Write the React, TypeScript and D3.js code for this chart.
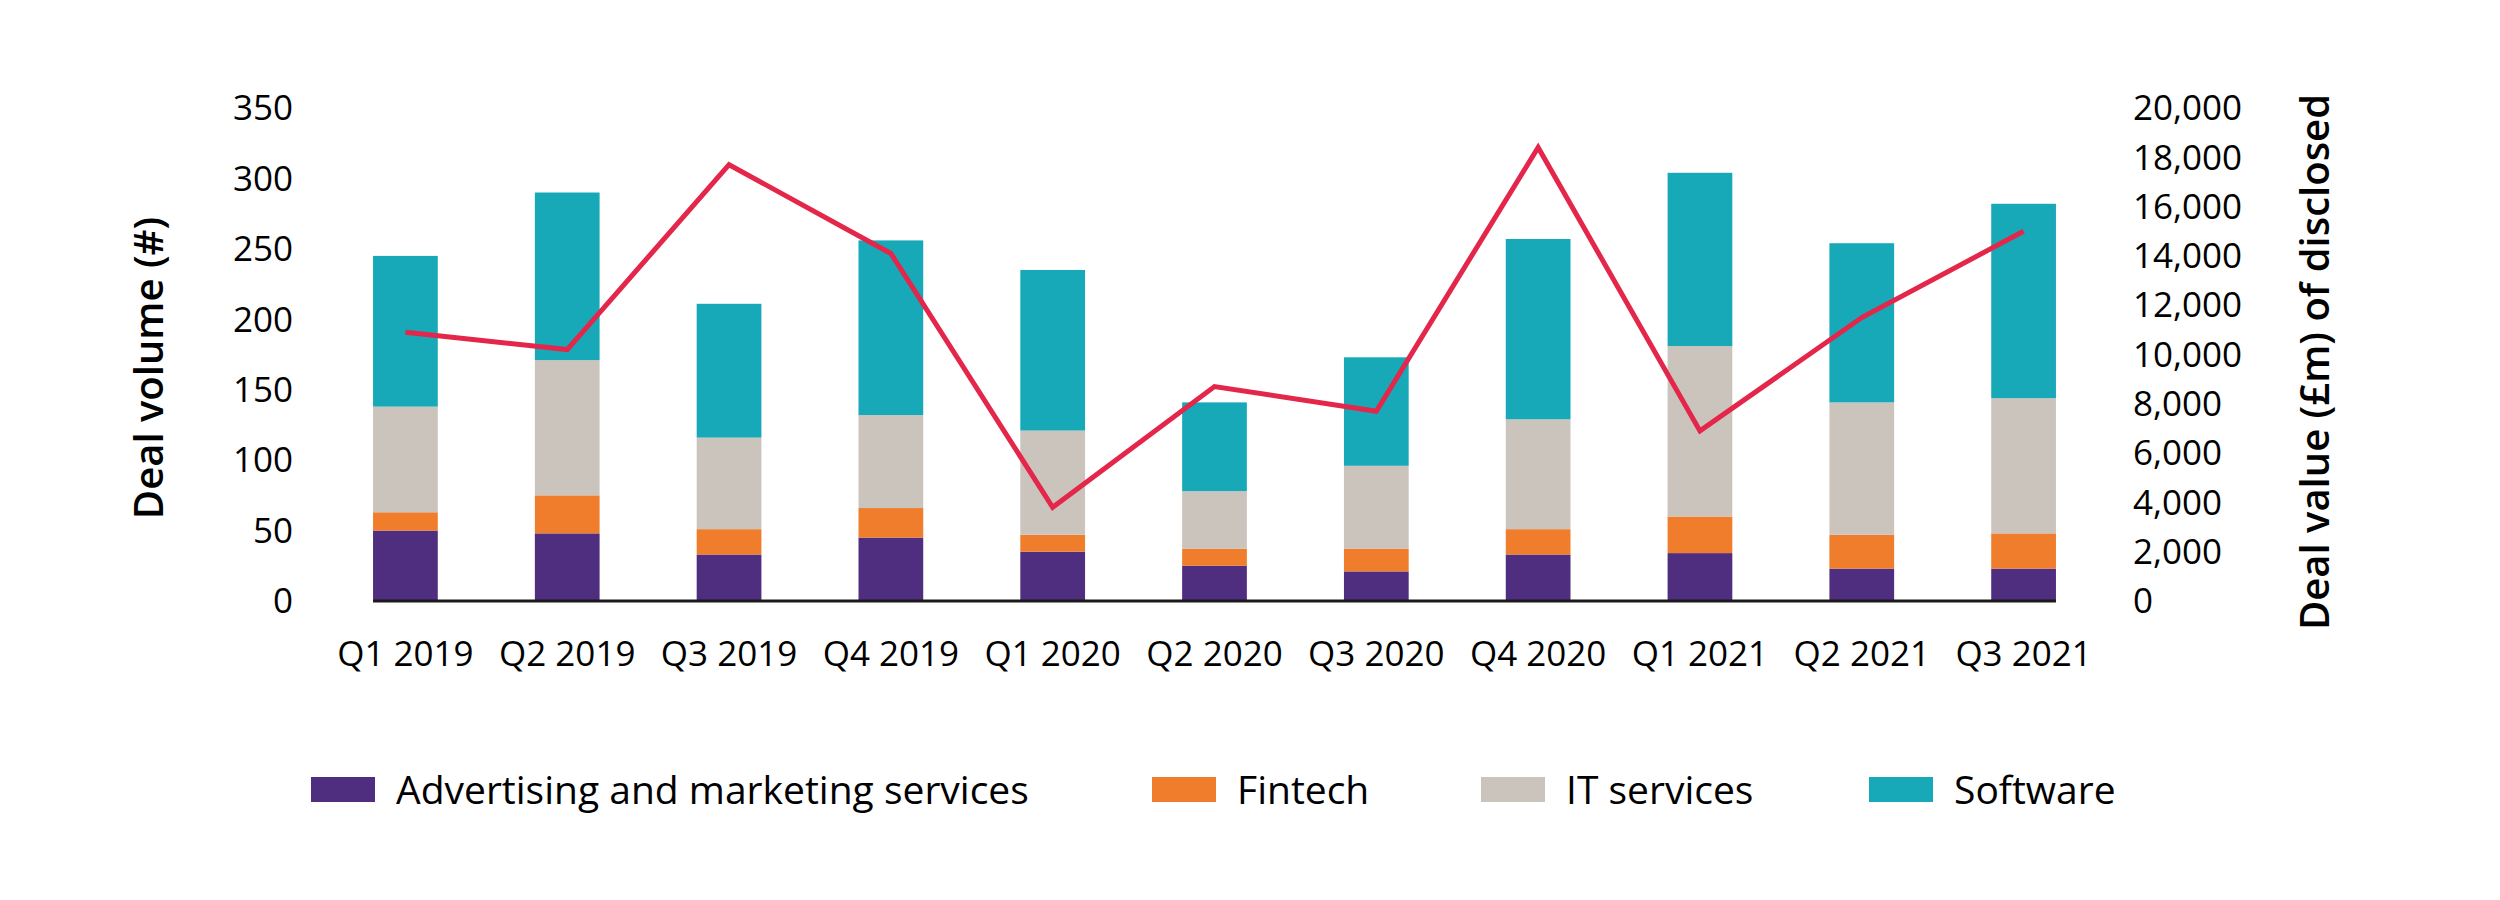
import { useEffect, useRef } from "react";
import * as d3 from "d3";

const QUARTERS = [
  "Q1 2019", "Q2 2019", "Q3 2019", "Q4 2019", "Q1 2020", "Q2 2020",
  "Q3 2020", "Q4 2020", "Q1 2021", "Q2 2021", "Q3 2021",
];

const ADVERTISING = [50, 48, 33, 45, 35, 25, 21, 33, 34, 23, 23];
const FINTECH = [13, 27, 18, 21, 12, 12, 16, 18, 26, 24, 25];
const IT_SERVICES = [75, 96, 65, 66, 74, 41, 59, 78, 121, 94, 96];
const SOFTWARE = [107, 119, 95, 124, 114, 63, 77, 128, 123, 113, 138];

// deal value (£m) of disclosed deals
const DEAL_VALUE = [10900, 10200, 17700, 14100, 3800, 8700, 7700, 18400, 6900, 11500, 15000];

const VOLUME_TICKS = [0, 50, 100, 150, 200, 250, 300, 350];
const VALUE_TICKS = [0, 2000, 4000, 6000, 8000, 10000, 12000, 14000, 16000, 18000, 20000];

const SERIES_NAMES = ["Advertising and marketing services", "Fintech", "IT services", "Software"];
const SERIES_COLORS = ["#4F2D7F", "#EF7D2C", "#CBC4BC", "#17A9B8"];
const LINE_COLOR = "#E3264A";

const FONT = "'Open Sans', 'Noto Sans', sans-serif";

export default function App() {
  const ref = useRef<SVGSVGElement>(null);

  useEffect(() => {
    if (!ref.current) return;
    const width = 2500;
    const height = 900;

    const svg = d3.select(ref.current);
    svg.selectAll("*").remove();
    svg.attr("width", width).attr("height", height).attr("viewBox", `0 0 ${width} ${height}`);

    const x = d3.scaleBand<string>().domain(QUARTERS).range([324.5, 2104.5]).paddingInner(0.6).paddingOuter(0.3);
    const y = d3.scaleLinear().domain([0, 350]).range([601, 108]);
    const y2 = d3.scaleLinear().domain([0, 20000]).range([601, 108]);

    const rows = QUARTERS.map((q, i) => ({
      q,
      a: ADVERTISING[i],
      f: FINTECH[i],
      it: IT_SERVICES[i],
      s: SOFTWARE[i],
    }));
    const stack = d3.stack<(typeof rows)[number]>().keys(["a", "f", "it", "s"]);
    const layers = stack(rows);

    const g = svg.append("g");
    g.selectAll("g.layer")
      .data(layers)
      .join("g")
      .attr("class", "layer")
      .attr("fill", (_, i) => SERIES_COLORS[i])
      .selectAll("rect")
      .data((d) => d)
      .join("rect")
      .attr("x", (d) => x(d.data.q)!)
      .attr("width", x.bandwidth())
      .attr("y", (d) => y(d[1]))
      .attr("height", (d) => y(d[0]) - y(d[1]));

    // baseline
    g.append("line")
      .attr("x1", x(QUARTERS[0])!)
      .attr("x2", x(QUARTERS[QUARTERS.length - 1])! + x.bandwidth())
      .attr("y1", y(0))
      .attr("y2", y(0))
      .attr("stroke", "#1a1a1a")
      .attr("stroke-width", 3);

    // deal value line
    const line = d3
      .line<number>()
      .x((_, i) => x(QUARTERS[i])! + x.bandwidth() / 2)
      .y((d) => y2(d));
    g.append("path")
      .attr("d", line(DEAL_VALUE))
      .attr("fill", "none")
      .attr("stroke", LINE_COLOR)
      .attr("stroke-width", 5)
      .attr("stroke-linejoin", "miter");

    // left ticks
    g.selectAll("text.yl")
      .data(VOLUME_TICKS)
      .join("text")
      .attr("class", "yl")
      .attr("x", 293)
      .attr("y", (d) => y(d))
      .attr("dy", "0.35em")
      .attr("text-anchor", "end")
      .attr("font-family", FONT)
      .attr("font-size", 35)
      .attr("fill", "#000")
      .text((d) => d3.format(",")(d));

    // right ticks
    g.selectAll("text.yr")
      .data(VALUE_TICKS)
      .join("text")
      .attr("class", "yr")
      .attr("x", 2133)
      .attr("y", (d) => y2(d))
      .attr("dy", "0.35em")
      .attr("text-anchor", "start")
      .attr("font-family", FONT)
      .attr("font-size", 35)
      .attr("fill", "#000")
      .text((d) => d3.format(",")(d));

    // x labels
    g.selectAll("text.xl")
      .data(QUARTERS)
      .join("text")
      .attr("class", "xl")
      .attr("x", (d) => x(d)! + x.bandwidth() / 2)
      .attr("y", 654)
      .attr("dy", "0.35em")
      .attr("text-anchor", "middle")
      .attr("font-family", FONT)
      .attr("font-size", 35)
      .attr("fill", "#000")
      .text((d) => d);

    // axis titles
    g.append("text")
      .attr("transform", "translate(149,368) rotate(-90)")
      .attr("dy", "0.35em")
      .attr("text-anchor", "middle")
      .attr("font-family", FONT)
      .attr("font-size", 40)
      .attr("font-weight", 600)
      .text("Deal volume (#)");
    g.append("text")
      .attr("transform", "translate(2315,362) rotate(-90)")
      .attr("dy", "0.35em")
      .attr("text-anchor", "middle")
      .attr("font-family", FONT)
      .attr("font-size", 40)
      .attr("font-weight", 600)
      .text("Deal value (£m) of disclosed");

    // legend (swatch positions as in the original layout)
    const legendX = [311, 1152, 1481, 1869];
    const legend = svg.append("g");
    const items = legend
      .selectAll("g")
      .data(SERIES_NAMES)
      .join("g")
      .attr("transform", (_, i) => `translate(${legendX[i]},777)`);
    items
      .append("rect")
      .attr("width", 64)
      .attr("height", 25)
      .attr("fill", (_, i) => SERIES_COLORS[i]);
    items
      .append("text")
      .attr("x", 85)
      .attr("y", 13)
      .attr("dy", "0.35em")
      .attr("font-family", FONT)
      .attr("font-size", 39)
      .attr("fill", "#000")
      .text((d) => d);
  }, []);

  return (
    <div style={{ position: "absolute", left: 0, top: 0, background: "#fff" }}>
      <svg ref={ref} style={{ display: "block" }} />
    </div>
  );
}
